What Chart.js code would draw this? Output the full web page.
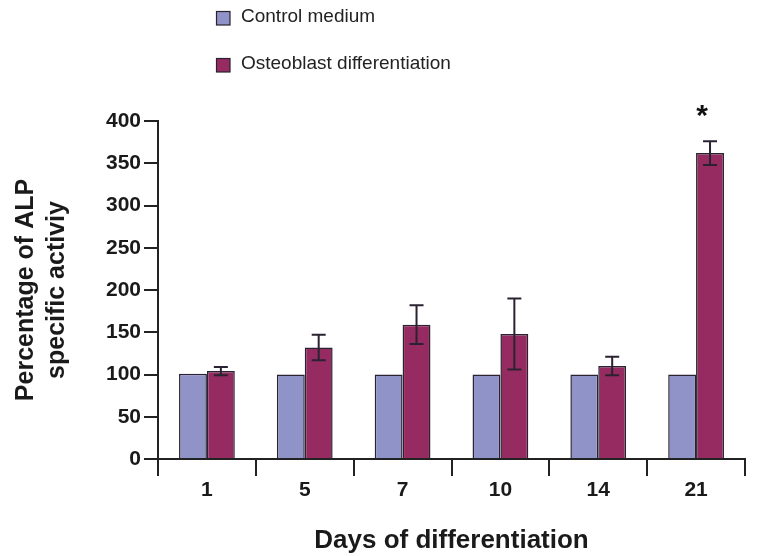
<!DOCTYPE html>
<html>
<head>
<meta charset="utf-8">
<script src="https://cdn.jsdelivr.net/npm/chart.js@4"></script>
<style>
html,body{margin:0;padding:0;background:#fff;}
#wrap{width:771px;height:556px;position:relative;}
</style>
</head>
<body>
<div id="wrap"><canvas id="c" width="771" height="556"></canvas></div>
<script>
const days = ['1', '5', '7', '10', '14', '21'];
const controlValues = [101, 100, 100, 100, 100, 100];
const osteoValues = [104, 132, 159, 148, 110, 362];
const osteoErrors = [5, 15, 23, 42, 11, 14];
const significance = ['', '', '', '', '', '*'];
const yTicks = [0, 50, 100, 150, 200, 250, 300, 350, 400];
const seriesNames = ['Control medium', 'Osteoblast differentiation'];
const yTitle = ['Percentage of ALP', 'specific activiy'];
const xTitle = 'Days of differentiation';

const FONT = '"Liberation Sans", Arial, Helvetica, sans-serif';
const DARK = '#2a2230';

const errorBarPlugin = {
  id: 'errorBars',
  afterDatasetsDraw(chart) {
    const ctx = chart.ctx;
    const y = chart.scales.y;
    const meta = chart.getDatasetMeta(1);
    ctx.save();
    ctx.strokeStyle = DARK;
    ctx.lineWidth = 2;
    meta.data.forEach((el, i) => {
      const v = osteoValues[i], e = osteoErrors[i];
      const top = y.getPixelForValue(v + e);
      const bot = y.getPixelForValue(v - e);
      const x = el.x;
      ctx.beginPath();
      ctx.moveTo(x, top); ctx.lineTo(x, bot);
      ctx.moveTo(x - 7, top); ctx.lineTo(x + 7, top);
      ctx.moveTo(x - 7, bot); ctx.lineTo(x + 7, bot);
      ctx.stroke();
      if (significance[i]) {
        ctx.fillStyle = '#111';
        ctx.font = 'bold 30px ' + FONT;
        ctx.textAlign = 'center';
        ctx.textBaseline = 'alphabetic';
        ctx.fillText(significance[i], x - 8, top - 16);
      }
    });
    ctx.restore();
  }
};

const legendPlugin = {
  id: 'customLegend',
  afterDraw(chart) {
    const ctx = chart.ctx;
    ctx.save();
    ctx.font = '19px ' + FONT;
    ctx.textBaseline = 'middle';
    ctx.textAlign = 'left';
    chart.data.datasets.forEach((ds, i) => {
      const by = 11 + i * 47;
      ctx.fillStyle = ds.backgroundColor;
      ctx.fillRect(216, by, 14, 14);
      ctx.strokeStyle = DARK;
      ctx.lineWidth = 1.2;
      ctx.strokeRect(216.5, by + 0.5, 13.5, 13.5);
      ctx.fillStyle = '#222';
      ctx.fillText(ds.label, 241, by + 6);
    });
    ctx.restore();
  }
};

new Chart(document.getElementById('c'), {
  type: 'bar',
  data: {
    labels: days,
    datasets: [
      { label: seriesNames[0], data: controlValues, backgroundColor: '#8f93c7', borderColor: DARK, borderWidth: 1.5 },
      { label: seriesNames[1], data: osteoValues, backgroundColor: '#962b62', borderColor: DARK, borderWidth: 1.5 }
    ]
  },
  options: {
    responsive: false,
    animation: false,
    devicePixelRatio: 1,
    layout: { padding: { left: 0, right: 26, top: 121, bottom: 0 } },
    datasets: { bar: { categoryPercentage: 0.57, barPercentage: 1.0 } },
    plugins: { legend: { display: false }, tooltip: { enabled: false } },
    scales: {
      x: {
        afterFit(s) { s.height = 97; },
        grid: { offset: true, drawOnChartArea: false, color: '#222', lineWidth: 2, tickLength: 17 },
        border: { display: true, color: '#222', width: 2 },
        ticks: { color: '#1a1a1a', font: { family: FONT, size: 21, weight: 'bold' }, padding: 2 },
        title: { display: true, text: xTitle, color: '#1a1a1a', font: { family: FONT, size: 26, weight: 'bold' }, padding: { top: 10, bottom: 0 } }
      },
      y: {
        min: 0, max: 400,
        afterFit(s) { s.width = 158; },
        afterBuildTicks(s) { s.ticks = yTicks.map(v => ({ value: v })); },
        grid: { drawOnChartArea: false, color: '#222', lineWidth: 2, tickLength: 14 },
        border: { display: true, color: '#222', width: 2 },
        ticks: { color: '#1a1a1a', font: { family: FONT, size: 21, weight: 'bold' }, padding: 3 },
        title: { display: true, text: yTitle, color: '#1a1a1a', font: { family: FONT, size: 25, weight: 'bold', lineHeight: 1.25 }, padding: { top: 10, bottom: 0 } }
      }
    }
  },
  plugins: [errorBarPlugin, legendPlugin]
});
</script>
</body>
</html>
